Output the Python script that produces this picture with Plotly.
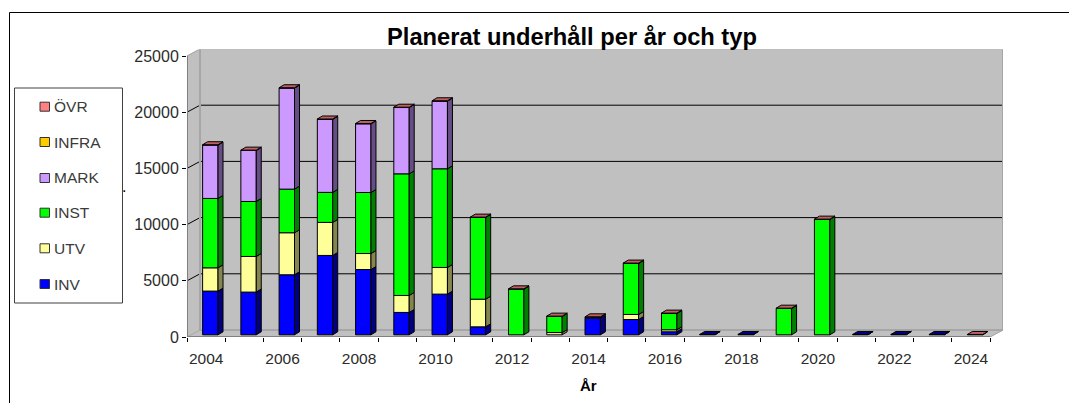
import plotly.graph_objects as go

years = list(range(2004, 2025))
INV = [3890, 3800, 5340, 7060, 5810, 1990, 3620, 710, 0, 0, 1480, 1360, 270, 30, 30, 0, 0, 30, 30, 30, 0]
UTV = [2070, 3170, 3740, 2940, 1420, 1510, 2370, 2460, 0, 200, 90, 450, 180, 0, 0, 0, 0, 0, 0, 0, 0]
INST = [6170, 4890, 3880, 2670, 5430, 10820, 8780, 7270, 4060, 1430, 0, 4540, 1450, 0, 0, 2340, 10260, 0, 0, 0, 0]
MARK = [4750, 4540, 8990, 6500, 6110, 5900, 6020, 0, 0, 0, 0, 0, 0, 0, 0, 0, 0, 0, 0, 0, 0]
INFRA = [0] * 21
OVR = [30, 30, 30, 30, 30, 30, 30, 30, 30, 30, 30, 30, 30, 0, 0, 30, 30, 0, 0, 0, 30]

series = [
    ("INV", INV, "#0000ff", "#000080"),
    ("UTV", UTV, "#ffff99", "#85854f"),
    ("INST", INST, "#00ff00", "#008000"),
    ("MARK", MARK, "#cc99ff", "#664d85"),
    ("INFRA", INFRA, "#ffcc00", "#806600"),
    ("ÖVR", OVR, "#ff8080", "#c06060"),
]
y_ticks = [0, 5000, 10000, 15000, 20000, 25000]
x_labels = list(range(2004, 2025, 2))

W, H = 1069, 403
PX_L, PX_R, PX_B, PX_T = 187.0, 1003.0, 337.0, 49.5
PX_PER_YEAR = (990.0 - 187.0) / 21
PX_PER_UNIT = (337.0 - 56.0) / 25000
X0 = 2003.5
X_END = X0 + (PX_R - PX_L) / PX_PER_YEAR
Y_END = (PX_B - PX_T) / PX_PER_UNIT
DX = 13 / PX_PER_YEAR
DY = 7 / PX_PER_UNIT
X_FRONT = X0 + 21

bar_w = 15.4 / PX_PER_YEAR
bar_shift = 4.2 / PX_PER_YEAR
bar_base = 2.2 / PX_PER_UNIT
sx = 5.0 / PX_PER_YEAR
sy = 3.0 / PX_PER_UNIT

GREY = "#c0c0c0"
EDGE = "#808080"
LIGHT = "#a6a6a6"
TEXT = "#2b2b2b"


def px_x(p):
    return p / W


def px_y(p):
    return 1 - p / H


def poly(pts, fill, line=None, width=1):
    path = "M" + "L".join(f"{x},{y}" for x, y in pts) + "Z"
    return dict(type="path", xref="x", yref="y", path=path, fillcolor=fill,
                line=dict(color=line or fill, width=width), layer="below")


def seg(x0, x1, y0, y1, color, width=1):
    return dict(type="line", xref="x", yref="y", x0=x0, x1=x1, y0=y0, y1=y1,
                line=dict(color=color, width=width), layer="below")


def pline(x0, x1, y0, y1, color="black", width=1):
    return dict(type="line", xref="paper", yref="paper", x0=px_x(x0), x1=px_x(x1), y0=px_y(y0), y1=px_y(y1),
                line=dict(color=color, width=width), layer="below")


shapes = [
    pline(9.5, 9.5, 12.5, 403),
    pline(9.5, 1069, 12.5, 12.5),
    poly([(X0, 0), (X0, 25000), (X0 + DX, 25000 + DY), (X0 + DX, DY)], GREY),
    poly([(X0 + DX, DY), (X0 + DX, 25000 + DY), (X_END, 25000 + DY), (X_END, DY)], GREY),
    poly([(X0, 0), (X_FRONT, 0), (X_END, DY), (X0 + DX, DY)], GREY),
]
for t in y_ticks[1:-1]:
    shapes.append(seg(X0, X0 + DX, t, t + DY, "black"))
    shapes.append(seg(X0 + DX, X_END, t + DY, t + DY, "black"))
shapes += [
    seg(X0 + DX, X_END, 25000 + DY, 25000 + DY, LIGHT, 2),
    seg(X0 + DX, X_END, DY, DY, LIGHT, 2),
    seg(X0 + DX, X0 + DX, DY, 25000 + DY, LIGHT, 2),
    seg(X_END, X_END, DY, 25000 + DY, LIGHT, 2),
    seg(X0, X0 + DX, 25000, 25000 + DY, LIGHT, 1),
    seg(X0, X0 + DX, 0, DY, LIGHT, 1),
    seg(X_FRONT, X_END, 0, DY, LIGHT, 1),
    seg(X0, X0, 0, 25000, EDGE, 2),
    seg(X0, X_FRONT, 0, 0, EDGE, 2),
]

# Legend box, drawn to sit exactly as in the reference
legend_y = [284, 248.3, 212.7, 178, 142, 106.7]
shapes.append(dict(type="rect", xref="paper", yref="paper", x0=px_x(14.5), x1=px_x(122.5),
                   y0=px_y(303), y1=px_y(88), line=dict(color="#404040", width=1),
                   fillcolor="white", layer="below"))
annotations = []
FONT = "Liberation Sans, Arial, sans-serif"
for (name, _, color, _d), ly in zip(series, legend_y):
    shapes.append(dict(type="rect", xref="paper", yref="paper", x0=px_x(40), x1=px_x(49.5),
                       y0=px_y(ly + 4.5), y1=px_y(ly - 4.5), fillcolor=color,
                       line=dict(color="#333333", width=1), layer="below"))
    annotations.append(dict(text=name, xref="paper", yref="paper", x=px_x(52), y=px_y(ly),
                            xanchor="left", yanchor="middle", showarrow=False,
                            font=dict(size=15.5, color="#3a3a3a")))

fig = go.Figure()
running = [bar_base] * len(years)
top_color = [None] * len(years)
for name, vals, color, dark in series:
    xs = [y + bar_shift for y in years]
    fig.add_trace(go.Bar(
        x=xs,
        y=[v if v > 0 else None for v in vals],
        base=running,
        width=bar_w,
        name=name,
        marker=dict(color=color, line=dict(color="black", width=1)),
        hoverinfo="name+y",
    ))
    px, py = [], []
    for i, v in enumerate(vals):
        if v <= 0:
            continue
        r = xs[i] + bar_w / 2
        b = running[i]
        px += [r, r + sx, r + sx, r, r, None]
        py += [b, b + sy, b + v + sy, b + v, b, None]
        top_color[i] = dark
    fig.add_trace(go.Scatter(x=px, y=py, mode="lines", fill="toself", fillcolor=dark,
                             line=dict(color="black", width=1), showlegend=False, hoverinfo="skip"))
    running = [r + v for r, v in zip(running, vals)]

for _, _, _, dark in series:
    px, py = [], []
    for i, year in enumerate(years):
        if top_color[i] != dark:
            continue
        l = year + bar_shift - bar_w / 2
        r = l + bar_w
        t = running[i]
        px += [l, r, r + sx, l + sx, l, None]
        py += [t, t, t + sy, t + sy, t, None]
    if px:
        fig.add_trace(go.Scatter(x=px, y=py, mode="lines", fill="toself", fillcolor=dark,
                                 line=dict(color="black", width=1), showlegend=False, hoverinfo="skip"))

annotations += [
    dict(text="<b>Planerat underhåll per år och typ</b>", xref="paper", yref="paper",
         x=px_x(572), y=px_y(37), xanchor="center", yanchor="middle", showarrow=False,
         font=dict(size=23.7, color="black")),
    dict(text="<b>År</b>", xref="paper", yref="paper", x=px_x(588), y=px_y(385),
         xanchor="center", yanchor="middle", showarrow=False, font=dict(size=15, color="black")),
    dict(text=".", xref="paper", yref="paper", x=px_x(123.5), y=px_y(186), xanchor="center", yanchor="middle",
         showarrow=False, font=dict(size=16, color="black")),
]

fig.update_layout(
    width=W, height=H,
    margin=dict(l=0, r=0, t=0, b=0, autoexpand=False),
    paper_bgcolor="white", plot_bgcolor="white",
    barmode="overlay",
    showlegend=False,
    shapes=shapes,
    annotations=annotations,
    font=dict(family=FONT, size=15, color=TEXT),
    xaxis=dict(
        domain=[px_x(PX_L), px_x(PX_R)], range=[X0, X_END], automargin=False,
        showgrid=False, zeroline=False, showline=False,
        tickmode="array", tickvals=x_labels, ticktext=[str(v) for v in x_labels],
        ticks="", tickfont=dict(size=15.5, color=TEXT),
        ticklabelstandoff=10,
        minor=dict(tickmode="array", tickvals=[X0 + i for i in range(22)], ticks="outside",
                   ticklen=4, tickcolor="black", tickwidth=1, showgrid=False),
    ),
    yaxis=dict(
        domain=[px_y(PX_B), px_y(PX_T)], range=[0, Y_END], automargin=False,
        showgrid=False, zeroline=False, showline=False,
        tickmode="array", tickvals=y_ticks, tickformat="d",
        ticks="outside", ticklen=4, tickcolor="black",
        tickfont=dict(size=16, color=TEXT),
    ),
)
fig.write_html("out.html", post_script="document.body.style.margin='0';",
               config={"displayModeBar": False})
